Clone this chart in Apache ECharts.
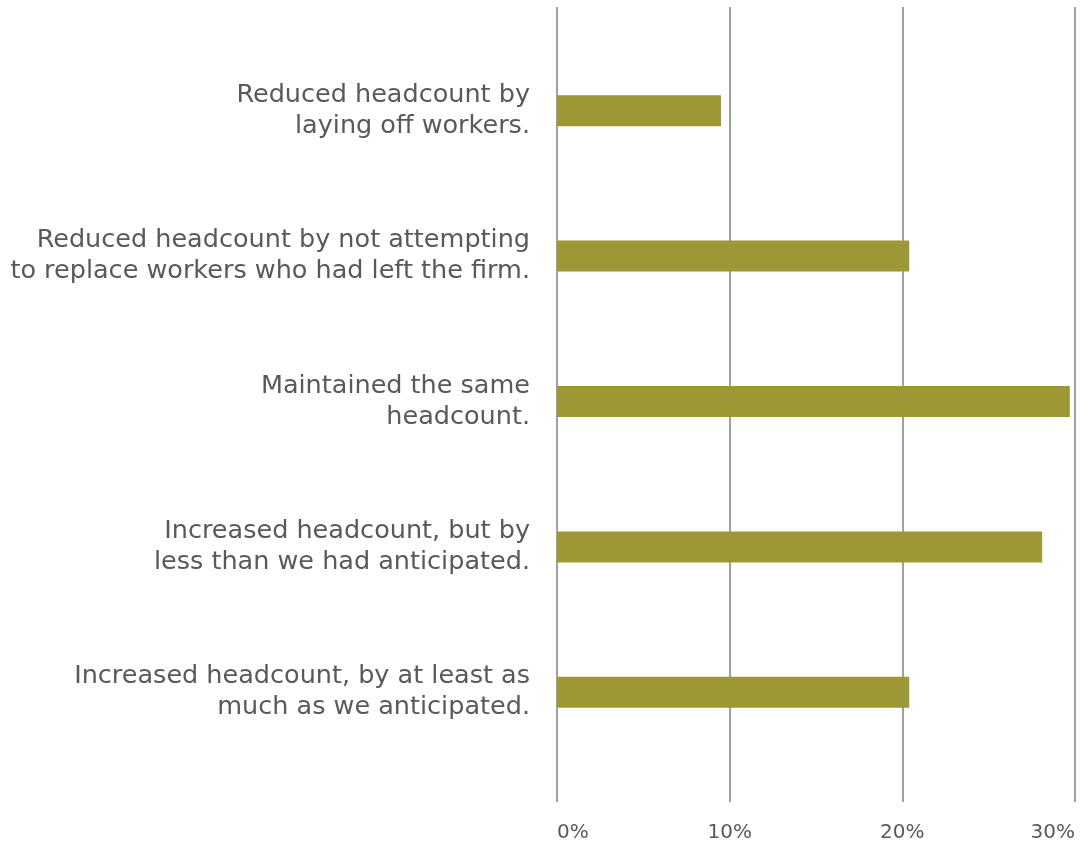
<!DOCTYPE html>
<html>
<head>
<meta charset="utf-8">
<script src="https://cdn.jsdelivr.net/npm/echarts@6/dist/echarts.min.js"></script>
<style>
  html, body { margin: 0; padding: 0; background: #ffffff; }
  #chart { width: 1089px; height: 848px; }
</style>
</head>
<body>
<div id="chart"></div>
<script>
// Survey responses: how firms changed headcount
const categories = [
  'Reduced headcount by\nlaying off workers.',
  'Reduced headcount by not attempting\nto replace workers who had left the firm.',
  'Maintained the same\nheadcount.',
  'Increased headcount, but by\nless than we had anticipated.',
  'Increased headcount, by at least as\nmuch as we anticipated.'
];
const shares = [9.5, 20.4, 29.7, 28.1, 20.4]; // percent of respondents
const axisMin = 0;
const axisMax = 30;
const axisStep = 10;

const FONT = 'DejaVu Sans';
const chart = echarts.init(document.getElementById('chart'), null, { renderer: 'canvas' });

chart.setOption({
  animation: false,
  backgroundColor: '#ffffff',
  grid: [
    // full-height grid carrying the vertical gridlines and percent labels
    { left: 557, right: 14, top: 7, bottom: 46 },
    // bar grid
    { left: 557, right: 14, top: 38, height: 727 }
  ],
  xAxis: [
    {
      gridIndex: 0, type: 'value', min: axisMin, max: axisMax, interval: axisStep,
      axisLine: { show: false }, axisTick: { show: false },
      splitLine: { show: true, lineStyle: { color: '#a0a0a4', width: 2 } },
      axisLabel: {
        formatter: '{value}%', color: '#595959', fontFamily: FONT, fontSize: 20,
        margin: 21, alignMinLabel: 'left', alignMaxLabel: 'right'
      }
    },
    {
      gridIndex: 1, type: 'value', min: axisMin, max: axisMax, interval: axisStep,
      show: false, splitLine: { show: false }
    }
  ],
  yAxis: [
    { gridIndex: 0, type: 'value', show: false, splitLine: { show: false } },
    {
      gridIndex: 1, type: 'category', data: categories, inverse: true,
      axisLine: { show: false }, axisTick: { show: false },
      axisLabel: {
        color: '#595959', fontFamily: FONT, fontSize: 25.5, lineHeight: 31,
        margin: 27, align: 'right'
      }
    }
  ],
  series: [
    {
      type: 'bar', xAxisIndex: 1, yAxisIndex: 1,
      data: shares, barWidth: 31,
      itemStyle: { color: '#9d9835' }
    }
  ]
});
</script>
</body>
</html>
